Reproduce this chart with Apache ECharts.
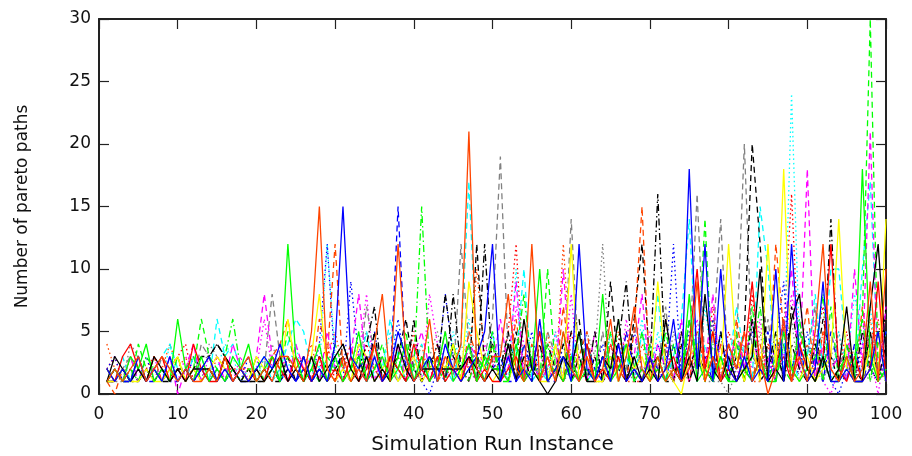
<!DOCTYPE html>
<html><head><meta charset="utf-8">
<style>html,body{margin:0;padding:0;background:#fff}#c{width:912px;height:456px}</style>
<script src="https://cdn.jsdelivr.net/npm/echarts@6/dist/echarts.min.js"></script>
</head><body><div id="c"></div>
<script>
const solidRed=[2,1,3,4,2,1,2,3,1,2, 1,4,2,1,1,3,1,2,1,2, 1,3,2,1,3,2,1,3,1,2, 1,3,1,2,4,1,3,2,1,4, 2,1,3,1,2,1,3,1,2,1, 1,2,3,1,2,5,1,2,1,3, 1,4,1,2,1,3,1,2,1,3, 1,2,3,1,4,10,2,5,1,2, 1,3,9,2,1,2,3,1,4,2, 1,3,12,2,1,3,1,2,9,1];
const solidGreen=[1,2,1,3,2,4,1,2,1,6, 2,1,3,1,2,1,3,2,4,1, 2,3,1,12,3,1,2,4,1,3, 1,2,5,1,2,3,1,2,4,1, 3,1,2,5,1,2,4,1,3,2, 2,1,4,1,2,10,1,2,1,3, 1,2,1,8,1,2,4,1,2,1, 3,1,2,1,8,1,2,1,3,1, 1,2,1,3,1,1,5,2,1,2, 1,3,1,2,3,1,18,3,1,2];
const solidBlue=[2,1,2,1,3,1,2,1,3,1, 2,1,2,3,1,2,1,2,1,2, 3,2,4,2,1,3,1,2,1,4, 15,3,2,1,3,1,2,5,3,1, 2,3,1,4,2,1,2,3,5,12, 1,3,1,2,1,6,1,2,3,1, 12,2,1,3,1,4,1,2,1,3, 1,2,6,1,18,2,12,1,10,2, 1,3,1,2,1,10,1,12,3,1, 2,9,1,1,2,1,1,2,5,1];
const solidBlack=[1,3,2,1,2,1,3,2,1,2, 1,2,2,2,1,3,2,1,1,2, 1,2,3,1,2,1,3,1,2,3, 4,2,1,3,1,2,1,4,2,1, 2,2,2,2,2,2,3,2,1,2, 1,4,1,6,2,1,0,1,3,2, 5,1,1,3,2,6,1,3,1,2, 1,6,2,1,3,1,8,2,1,3, 1,2,3,10,1,2,1,6,8,2, 1,3,1,2,7,1,1,7,12,3];
const solidOrange=[1,2,1,2,3,1,2,3,2,1, 2,1,1,2,1,3,1,2,3,1, 2,1,3,3,2,1,5,15,2,1, 3,1,2,1,4,8,1,12,3,1, 2,6,1,3,2,4,21,2,1,3, 3,8,2,1,12,1,3,1,5,2, 1,3,1,2,6,1,3,7,2,1, 3,1,2,1,2,9,1,3,1,4, 2,5,1,3,0,2,6,1,3,1, 5,12,2,1,3,1,2,9,1,10];
const solidYellow=[1,1,2,1,1,2,1,1,2,3, 1,2,1,2,3,2,1,2,1,3, 2,3,2,6,2,1,3,8,2,1, 2,1,4,3,1,2,3,1,2,3, 1,2,3,2,4,1,9,5,2,1, 2,1,3,1,2,1,1,4,1,12, 1,3,1,1,3,1,4,2,3,1, 9,2,1,0,3,4,1,5,2,12, 3,1,4,1,12,2,18,2,1,3, 1,2,3,14,2,1,1,4,1,14];
const dashedGreen=[2,1,2,1,4,2,1,2,1,3, 1,2,6,3,2,1,2,1,2,2, 1,3,2,5,2,1,3,2,1,4, 2,1,3,1,2,4,1,3,5,1, 2,3,1,2,4,1,2,3,1,4, 1,4,2,1,3,1,10,2,3,1, 5,1,2,3,1,6,1,2,5,1, 2,1,4,1,6,2,14,1,3,1, 4,1,7,2,1,3,2,1,5,3, 4,1,7,1,2,3,6,30,2,1];
const dashedMagenta=[1,2,1,3,1,2,2,1,3,0, 2,4,1,2,3,1,4,2,1,3, 8,3,2,1,4,2,3,1,5,2, 1,3,8,2,1,3,2,4,1,3, 5,2,1,3,2,1,4,3,1,2, 6,2,9,1,3,1,2,1,10,1, 3,1,5,1,2,4,1,3,8,1, 4,2,1,6,1,3,2,8,1,2, 5,2,6,1,3,1,5,10,2,18, 1,4,2,3,1,10,2,21,1,7];
const dashedCyan=[2,1,3,1,2,1,2,3,4,2, 1,3,2,1,6,3,4,2,1,2, 3,1,2,4,6,5,2,1,3,2, 1,3,2,5,1,2,6,3,1,2, 4,1,3,2,1,4,17,3,2,5, 1,4,3,10,1,2,1,4,1,3, 5,1,2,1,3,1,3,1,5,2, 8,1,3,6,14,2,4,1,3,2, 7,3,1,15,10,2,4,3,1,3, 8,2,10,10,3,1,10,17,2,5];
const dashedGray=[1,1,2,3,1,2,1,3,2,1, 2,1,4,3,1,2,1,2,3,1, 2,8,3,1,2,1,2,3,1,2, 3,1,2,7,3,1,2,1,3,2, 1,3,2,5,1,12,4,2,3,6, 19,3,1,4,2,1,5,3,1,14, 2,4,1,5,1,3,2,6,1,4, 2,7,1,5,3,16,2,4,14,1, 4,20,3,2,6,1,4,2,5,3, 7,1,3,2,4,1,1,5,1,2];
const dashedBlack=[1,2,1,1,3,1,2,1,1,2, 2,1,2,3,4,3,1,2,1,1, 2,1,1,3,1,2,1,3,2,1, 4,2,3,1,5,1,2,3,6,2, 1,3,2,8,3,2,1,12,2,4, 2,1,5,1,3,1,4,2,1,5, 6,1,3,1,9,2,1,6,12,2, 3,1,1,5,2,4,1,3,1,4, 2,5,20,12,2,4,1,7,3,1, 2,6,3,1,4,2,1,5,1,7];
const dashedOrange=[1,0,2,1,2,1,3,1,2,3, 1,2,1,2,1,3,2,1,2,1, 2,3,4,6,2,3,1,6,3,12, 2,4,1,3,2,1,3,2,4,1, 3,2,1,2,4,1,5,3,2,4, 1,2,6,1,4,1,3,1,7,2, 3,5,1,1,4,2,1,5,15,1, 2,4,1,3,1,5,2,1,4,1, 6,2,1,4,1,12,5,2,3,7, 1,5,2,1,3,1,7,2,4,6];
const dottedBlue=[2,3,1,2,1,3,1,2,1,2, 1,3,2,1,2,1,2,1,3,1, 2,1,3,1,2,3,1,4,12,2, 1,9,3,2,5,1,2,6,2,3, 1,0,2,8,3,1,4,2,1,5, 1,4,1,2,5,1,3,1,4,2, 5,1,2,4,1,3,1,5,2,1, 4,2,12,1,5,3,1,6,2,4, 1,3,5,2,1,4,9,1,2,5, 1,3,1,0,2,1,4,2,1,3];
const dottedCyan=[1,2,1,1,3,1,2,1,4,1, 2,1,3,1,2,4,3,1,2,1, 3,2,1,2,4,1,3,2,12,3, 2,1,4,1,3,2,5,1,2,4, 1,3,2,1,5,2,6,1,3,2, 3,1,10,1,4,2,1,5,1,3, 1,4,2,1,5,1,3,2,6,1, 5,2,1,4,3,1,7,2,5,1, 4,2,6,1,3,5,2,24,4,1, 6,3,1,5,2,8,4,7,1,2];
const dottedRed=[2,3,1,2,1,2,3,2,1,3, 4,1,2,2,2,2,2,2,2,1, 2,1,3,1,2,3,1,2,4,1, 3,2,1,4,2,1,3,1,2,5, 1,2,4,1,3,2,1,4,2,3, 1,5,12,1,3,1,2,4,1,5, 2,1,3,1,4,2,5,1,1,3, 1,6,2,4,1,3,2,7,1,5, 3,1,8,2,4,1,5,16,2,1, 4,7,1,2,5,1,3,2,6,1];
const dottedOrange=[4,2,1,3,2,1,3,2,4,2, 3,1,2,1,3,2,1,2,2,1, 3,1,2,3,1,2,4,1,3,5, 2,1,3,2,4,1,2,3,1,2, 4,1,3,2,1,3,2,10,3,2, 1,4,1,3,2,1,5,1,12,2, 1,4,1,3,2,5,1,1,4,2, 1,3,1,5,2,4,1,6,1,3, 2,5,1,1,4,3,6,1,2,4, 1,5,2,1,4,3,1,6,2,1];
const dottedMagenta=[1,1,2,1,2,1,3,1,2,1, 3,2,1,3,1,2,1,3,1,2, 6,2,4,1,3,2,1,3,2,1, 2,4,3,8,1,2,3,1,2,3, 1,8,4,2,1,3,2,1,4,2, 2,1,7,4,1,3,2,5,1,8, 1,3,1,2,4,1,6,2,1,5, 2,4,1,3,1,6,2,1,4,3, 1,5,2,6,1,4,3,8,2,1, 5,1,0,2,4,1,6,3,0,4];
const dashDotGreen=[1,2,1,2,1,3,2,1,2,1, 2,3,1,2,1,3,6,2,1,3, 1,2,1,3,2,1,2,1,3,2, 1,2,3,1,4,2,1,3,1,2, 15,2,3,1,4,2,1,3,2,5, 1,1,3,8,2,1,4,1,5,1, 2,4,1,1,5,1,3,2,1,4, 1,5,2,1,6,3,1,4,2,1, 5,1,3,7,2,1,4,1,6,2, 3,8,1,1,4,2,6,1,5,1];
const dashDotBlack=[1,1,2,1,1,2,1,2,1,2, 1,2,3,3,4,3,2,1,2,1, 1,2,1,2,1,3,1,2,1,2, 3,1,2,4,7,1,3,2,1,6, 1,2,4,1,8,2,3,1,12,2, 2,5,1,3,1,4,1,2,4,1, 3,1,5,1,2,4,9,1,1,2, 16,2,1,4,1,3,2,1,5,1, 3,1,6,1,2,5,1,4,2,1, 4,2,14,1,3,1,5,2,1,4];
const dashedBlue=[1,2,1,1,2,1,1,2,1,1, 2,1,2,1,2,1,2,1,1,2, 1,3,1,2,1,2,1,2,1,3, 2,1,2,3,1,2,1,15,2,1, 3,1,2,1,4,1,3,2,1,2, 3,1,1,4,2,5,1,1,3,2, 1,4,2,1,3,1,5,2,1,3, 2,1,4,1,6,2,3,1,5,1, 4,2,1,3,5,1,6,2,4,1, 3,1,5,2,1,4,1,3,2,5];
const dottedGray=[1,1,1,4,3,1,2,1,3,1, 2,3,1,4,3,2,1,2,1,1, 1,4,2,1,3,1,2,1,2,1, 1,2,3,5,2,1,3,2,1,2, 1,3,5,2,1,4,2,1,3,2, 4,1,3,1,2,5,1,3,1,2, 1,5,3,12,1,4,2,1,5,2, 3,1,5,2,1,4,1,1,1,0, 2,4,1,5,1,3,2,6,1,4, 2,1,3,5,1,4,2,1,3,1];

const xTicks={min:0,max:100,step:10};
const yTicks={min:0,max:30,step:5};
const xTitle='Simulation Run Instance';
const yTitle='Number of pareto paths';

const RED='#ff0000',GREEN='#00ff00',BLUE='#0000ff',MAG='#ff00ff',CYAN='#00ffff',YEL='#ffff00',BLK='#000000',ORG='#ff4500',GRAY='#808080';
const DASH=[6,4],DOT=[1.5,3],DD=[7,3,1.5,3];
const defs=[
 [dottedGray,GRAY,DOT],[dottedOrange,ORG,DOT],[dottedRed,RED,DOT],[dottedMagenta,MAG,DOT],[dottedCyan,CYAN,DOT],[dottedBlue,BLUE,DOT],
 [dashedGray,GRAY,DASH],[dashedBlack,BLK,DASH],[dashedOrange,ORG,DASH],[dashedCyan,CYAN,DASH],[dashedMagenta,MAG,DASH],[dashedBlue,BLUE,DASH],[dashedGreen,GREEN,DASH],
 [dashDotBlack,BLK,DD],[dashDotGreen,GREEN,DD],
 [solidYellow,YEL,'solid'],[solidRed,RED,'solid'],[solidGreen,GREEN,'solid'],[solidBlack,BLK,'solid'],[solidBlue,BLUE,'solid'],[solidOrange,ORG,'solid']
];
const ink='#222';
const axisBase={axisLine:{show:true,onZero:false,lineStyle:{color:ink,width:2}},
 axisTick:{show:true,inside:true,length:10,lineStyle:{color:ink,width:1.2}},splitLine:{show:false}};
const chart=echarts.init(document.getElementById('c'),null,{renderer:'canvas'});
chart.setOption({
 animation:false,backgroundColor:'#fff',
 grid:{left:99,right:26,top:19,bottom:62,containLabel:false,outerBoundsMode:'none'},
 xAxis:[
  Object.assign({type:'value',position:'bottom',min:xTicks.min,max:xTicks.max,interval:xTicks.step,
   name:xTitle,nameLocation:'middle',nameGap:41,nameTextStyle:{fontFamily:'DejaVu Sans',fontSize:20,color:'#111'},
   axisLabel:{fontFamily:'DejaVu Sans',fontSize:17,color:'#111',margin:12}},axisBase),
  Object.assign({type:'value',position:'top',min:xTicks.min,max:xTicks.max,interval:xTicks.step,axisLabel:{show:false}},axisBase)
 ],
 yAxis:[
  Object.assign({type:'value',position:'left',min:yTicks.min,max:yTicks.max,interval:yTicks.step,
   name:yTitle,nameLocation:'middle',nameGap:68,nameTextStyle:{fontFamily:'DejaVu Sans',fontSize:17,color:'#111'},
   axisLabel:{fontFamily:'DejaVu Sans',fontSize:17,color:'#111',margin:8,padding:[4,0,0,0]}},axisBase),
  Object.assign({type:'value',position:'right',min:yTicks.min,max:yTicks.max,interval:yTicks.step,axisLabel:{show:false}},axisBase)
 ],
 series:defs.map(([vals,color,type])=>({type:'line',xAxisIndex:0,yAxisIndex:0,showSymbol:false,symbol:'none',silent:true,
  data:vals.map((v,i)=>[i+1,v]),lineStyle:{color,width:1.3,type},clip:true}))
});
</script></body></html>
